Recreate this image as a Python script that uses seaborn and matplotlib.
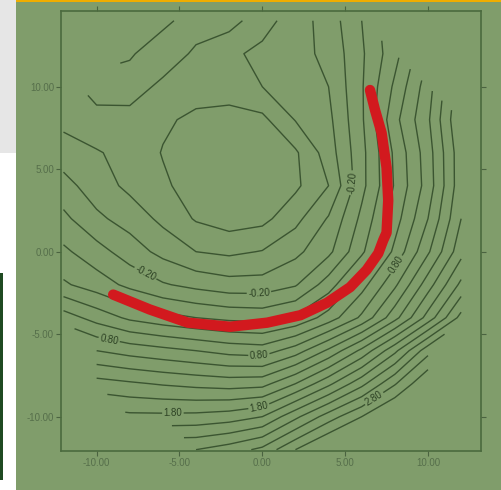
# contour map of the surface with the highlighted path (red), on a green panel
import numpy as np
import seaborn as sns
import matplotlib
import matplotlib.pyplot as plt
from matplotlib.patches import Rectangle
from matplotlib.ticker import FormatStrFormatter

matplotlib.use("Agg")

nan = np.nan

# grid (x columns, y rows from top to bottom)
grid_x = [-12, -10, -8, -6, -4, -2, 0, 2, 4, 6, 8, 10, 12]
grid_y = [14, 12, 10, 8, 6, 4, 2, 0, -2, -4, -6, -8, -10, -12]
surface = [
    [nan, nan, nan, -0.76, -0.88, -0.88, -0.68, -0.50, -0.31, 0.00, nan, nan, nan],
    [nan, nan, -0.78, -0.90, -0.77, -0.64, -0.55, -0.47, -0.35, -0.03, 0.33, nan, nan],
    [nan, -0.85, -0.88, -0.76, -0.72, -0.70, -0.60, -0.50, -0.40, -0.02, 0.44, 0.91, nan],
    [-0.66, -0.76, -0.74, -0.77, -0.84, -0.88, -0.85, -0.59, -0.45, -0.03, 0.54, 0.97, 1.60],
    [-0.50, -0.58, -0.68, -0.81, -0.90, -0.95, -0.90, -0.83, -0.50, -0.06, 0.44, 0.91, 1.53],
    [-0.33, -0.50, -0.65, -0.77, -0.88, -0.95, -0.90, -0.84, -0.60, -0.06, 0.42, 0.89, 1.53],
    [-0.15, -0.36, -0.48, -0.65, -0.82, -0.90, -0.86, -0.66, -0.38, 0.05, 0.51, 1.00, 1.60],
    [0.04, -0.12, -0.30, -0.46, -0.60, -0.64, -0.59, -0.45, -0.25, 0.16, 0.65, 1.17, 1.73],
    [0.23, 0.10, -0.05, -0.18, -0.26, -0.32, -0.32, -0.22, 0.10, 0.52, 0.96, 1.51, 2.05],
    [0.70, 0.52, 0.36, 0.27, 0.20, 0.15, 0.13, 0.23, 0.49, 0.84, 1.33, 1.88, 2.47],
    [nan, 1.00, 0.92, 0.86, 0.80, 0.73, 0.70, 0.90, 1.24, 1.65, 2.15, 2.73, nan],
    [nan, 1.48, 1.43, 1.38, 1.34, 1.31, 1.33, 1.60, 1.95, 2.34, 2.78, 3.20, nan],
    [nan, nan, 1.85, 1.85, 1.86, 1.90, 2.00, 2.35, 2.70, 3.00, 3.30, nan, nan],
    [nan, nan, nan, nan, 2.40, 2.50, 2.65, 3.00, 3.30, nan, nan, nan, nan],
]

# highlighted path
path_x = [-9.0, -6.8, -4.5, -1.95, 0.3, 2.3, 3.9, 5.3, 6.3, 7.0, 7.3, 7.5, 7.6, 7.5, 7.2, 6.8, 6.5]
path_y = [-2.6, -3.5, -4.3, -4.55, -4.3, -3.85, -3.1, -2.15, -1.1, -0.1, 0.7, 1.15, 3.1, 5.1, 7.2, 8.6, 9.8]

levels = np.round(np.arange(-0.8, 3.01, 0.2), 1)
label_levels = [-0.2, 0.8, 1.8, 2.8]
label_spots = [(-7.2, -1.6), (-0.2, -2.8), (6.0, 4.2),
               (-9.2, -5.1), (-0.2, -6.4), (8.1, -0.8),
               (-5.4, -9.3), (-0.2, -9.4), (7.0, -9.3)]
tick_values = [-10, -5, 0, 5, 10]

panel = "#809d6b"
ink = "#3b5531"

sns.set_style("ticks")
plt.rcParams["font.family"] = ["Liberation Sans", "DejaVu Sans"]
plt.rcParams["axes.unicode_minus"] = False
plt.rcParams["contour.negative_linestyle"] = "solid"

fig = plt.figure(figsize=(5.01, 4.90), dpi=100, facecolor="white")

# page pieces around the chart
W, H = 501, 490
def px_rect(x0, y0, x1, y1, color):
    r = Rectangle((x0 / W, 1 - y1 / H), (x1 - x0) / W, (y1 - y0) / H,
                  transform=fig.transFigure, color=color, zorder=-10, lw=0)
    fig.add_artist(r)

px_rect(0, 0, 16, 153, "#e6e6e6")
px_rect(0, 273, 3, 480, "#1f4a22")
px_rect(16, 0, 501, 490, panel)
px_rect(16, 0, 501, 2, "#f0ad00")

ax = fig.add_axes([61 / W, 39 / H, 420 / W, 440 / H])
ax.set_facecolor(panel)

X, Y = np.meshgrid(grid_x, grid_y)
Z = np.array(surface)
plain_levels = [lv for lv in levels if lv not in label_levels]
ax.contour(X, Y, Z, levels=plain_levels, colors=ink, linewidths=1.0,
           linestyles="solid")
cs_lab = ax.contour(X, Y, Z, levels=label_levels, colors=ink, linewidths=1.0,
                    linestyles="solid")
ax.clabel(cs_lab, manual=label_spots, fmt="%.2f", fontsize=7, inline=True,
          inline_spacing=2, colors="#2c4123")

sns.lineplot(x=path_x, y=path_y, sort=False, estimator=None, color="#d2191e",
             linewidth=7.5, solid_capstyle="round", ax=ax, zorder=4)

ax.set_xlim(-12.15, 13.2)
ax.set_ylim(-12.08, 14.59)
ax.set_xticks(tick_values)
ax.set_yticks(tick_values)
ax.xaxis.set_major_formatter(FormatStrFormatter("%.2f"))
ax.yaxis.set_major_formatter(FormatStrFormatter("%.2f"))
ax.tick_params(direction="out", length=3.5, width=0.8, color="#4a6340",
               labelcolor="#566f4b", labelsize=7, pad=1.5,
               top=True, right=True)
for s in ax.spines.values():
    s.set_color("#4b6a3e")
    s.set_linewidth(1.2)
ax.set_xlabel("")
ax.set_ylabel("")

fig.savefig("out.png", dpi=100, facecolor=fig.get_facecolor())
